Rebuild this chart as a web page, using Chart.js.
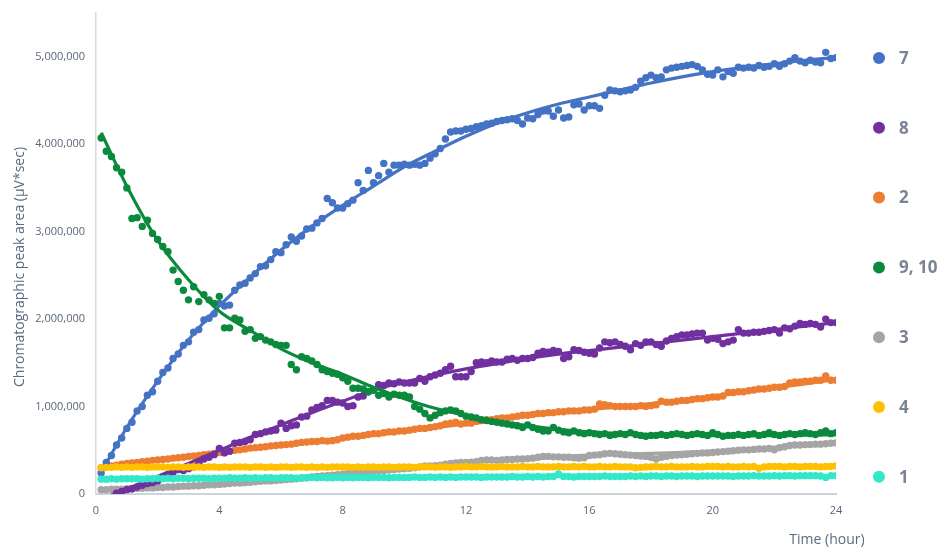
<!DOCTYPE html>
<html>
<head>
<meta charset="utf-8">
<script src="https://cdn.jsdelivr.net/npm/chart.js@4.4.1/dist/chart.umd.min.js"></script>
<style>
  html, body { margin: 0; padding: 0; background: #ffffff; }
  #wrap { position: relative; width: 944px; height: 547px; }
</style>
</head>
<body>
<div id="wrap"><canvas id="chart" width="944" height="547"></canvas></div>
<script>
// Sampling times (minutes after start), one injection every 10 min
const timeMin = [
  10, 20, 30, 40, 50, 60,
  70, 80, 90, 100, 110, 120,
  130, 140, 150, 160, 170, 180,
  190, 200, 210, 220, 230, 240,
  250, 260, 270, 280, 290, 300,
  310, 320, 330, 340, 350, 360,
  370, 380, 390, 400, 410, 420,
  430, 440, 450, 460, 470, 480,
  490, 500, 510, 520, 530, 540,
  550, 560, 570, 580, 590, 600,
  610, 620, 630, 640, 650, 660,
  670, 680, 690, 700, 710, 720,
  730, 740, 750, 760, 770, 780,
  790, 800, 810, 820, 830, 840,
  850, 860, 870, 880, 890, 900,
  910, 920, 930, 940, 950, 960,
  970, 980, 990, 1000, 1010, 1020,
  1030, 1040, 1050, 1060, 1070, 1080,
  1090, 1100, 1110, 1120, 1130, 1140,
  1150, 1160, 1170, 1180, 1190, 1200,
  1210, 1220, 1230, 1240, 1250, 1260,
  1270, 1280, 1290, 1300, 1310, 1320,
  1330, 1340, 1350, 1360, 1370, 1380,
  1390, 1400, 1410, 1420, 1430, 1440
];

// Peak areas, in thousands of µV*sec
const area7 = [
  240, 360, 440, 560, 640, 750,
  820, 950, 1000, 1130, 1170, 1290,
  1390, 1440, 1550, 1600, 1700, 1740,
  1850, 1880, 1990, 2010, 2060, 2180,
  2150, 2160, 2330, 2390, 2410, 2470,
  2520, 2600, 2610, 2680, 2770, 2760,
  2850, 2940, 2890, 2950, 3030, 3040,
  3100, 3150, 3380, 3330, 3270, 3270,
  3320, 3360, 3560, 3470, 3700, 3560,
  3640, 3780, 3680, 3760, 3760, 3770,
  3760, 3770, 3760, 3780, 3840, 3890,
  3950, 4060, 4140, 4150, 4150, 4170,
  4180, 4200, 4210, 4230, 4240, 4260,
  4270, 4280, 4290, 4270, 4230, 4300,
  4290, 4340, 4380, 4380, 4320, 4390,
  4300, 4310, 4450, 4460, 4390, 4440,
  4440, 4410, 4560, 4620, 4610, 4600,
  4610, 4620, 4650, 4720, 4760, 4790,
  4760, 4770, 4850, 4870, 4880, 4890,
  4900, 4910, 4890, 4850, 4800, 4790,
  4850, 4770, 4830, 4810, 4880, 4870,
  4880, 4870, 4900, 4880, 4890, 4920,
  4890, 4920, 4950, 4990, 4950, 4930,
  4960, 4940, 4930, 5050, 4980, 4990
];
const area8 = [
  null, null, null, 10, 30, 50,
  60, 80, 100, 120, 130, 150,
  190, 220, 250, 280, 270, 290,
  310, 350, 400, 420, 450, 520,
  470, 490, 580, 590, 600, 620,
  680, 690, 710, 720, 730, 810,
  750, 780, 790, 880, 890, 960,
  990, 1010, 1070, 1070, 1050, 1040,
  1000, 1010, 1110, 1120, 1170, 1190,
  1250, 1240, 1270, 1260, 1280, 1270,
  1270, 1270, 1320, 1290, 1340, 1360,
  1380, 1420, 1460, 1340, 1340, 1340,
  1400, 1500, 1510, 1500, 1520, 1510,
  1510, 1540, 1550, 1530, 1550, 1550,
  1560, 1610, 1630, 1620, 1640, 1630,
  1550, 1570, 1650, 1640, 1620, 1610,
  1600, 1670, 1740, 1730, 1740, 1710,
  1690, 1650, 1720, 1700, 1740, 1740,
  1710, 1690, 1750, 1780, 1800, 1820,
  1820, 1830, 1840, 1840, 1760, 1780,
  1770, 1720, 1740, 1760, 1880, 1840,
  1840, 1850, 1850, 1860, 1870, 1880,
  1840, 1900, 1890, 1920, 1950, 1940,
  1950, 1940, 1910, 2000, 1960, 1960
];
const area2 = [
  300, 310, 320, 330, 340, 350,
  355, 360, 370, 375, 385, 390,
  395, 400, 410, 415, 420, 430,
  435, 440, 450, 455, 465, 475,
  480, 490, 500, 505, 515, 525,
  530, 535, 540, 550, 555, 560,
  565, 570, 580, 590, 595, 600,
  600, 610, 605, 610, 620, 640,
  650, 660, 660, 670, 680, 690,
  690, 700, 710, 710, 720, 720,
  730, 740, 750, 750, 760, 770,
  780, 800, 810, 820, 800, 810,
  810, 830, 840, 850, 850, 860,
  870, 870, 880, 890, 900, 900,
  910, 920, 920, 930, 930, 940,
  940, 950, 950, 950, 960, 960,
  970, 1030, 1020, 1010, 1000, 1000,
  1000, 1000, 1000, 1010, 1000, 1010,
  1020, 1060, 1050, 1050, 1060, 1070,
  1070, 1080, 1090, 1090, 1100, 1110,
  1110, 1120, 1160, 1160, 1170, 1170,
  1180, 1190, 1200, 1200, 1210, 1220,
  1220, 1230, 1270, 1280, 1280, 1290,
  1290, 1300, 1300, 1350, 1300, 1300
];
const area9_10 = [
  4070, 3920, 3860, 3730, 3680, 3500,
  3150, 3160, 3060, 3130, 2980, 2910,
  2830, 2770, 2560, 2430, 2330, 2220,
  2370, 2200, 2280, 2220, 2180, 2260,
  1900, 1900, 2010, 1990, 1860, 1880,
  1780, 1800, 1760, 1740, 1710, 1700,
  1700, 1480, 1420, 1570, 1550, 1520,
  1480, 1420, 1400, 1380, 1370, 1330,
  1290, 1210, 1210, 1200, 1170, 1190,
  1130, 1150, 1110, 1140, 1130, 1130,
  1110, 1000, 970, 920, 870, 900,
  930, 950, 960, 950, 920, 890,
  880, 870, 850, 840, 830, 820,
  810, 800, 790, 780, 760, 790,
  760, 740, 720, 720, 760, 730,
  710, 700, 720, 700, 690, 700,
  690, 680, 690, 670, 680, 690,
  680, 700, 680, 670, 660, 670,
  670, 680, 670, 680, 690, 680,
  670, 680, 690, 680, 670, 700,
  680, 660, 670, 670, 680, 670,
  680, 690, 670, 680, 700, 680,
  670, 680, 690, 680, 690, 700,
  690, 680, 700, 720, 690, 700
];
const area3 = [
  50, 50, 55, 55, 55, 60,
  60, 65, 65, 70, 70, 75,
  75, 80, 80, 85, 90, 90,
  95, 95, 100, 105, 105, 110,
  115, 120, 125, 125, 130, 135,
  140, 145, 150, 150, 155, 160,
  165, 170, 175, 180, 185, 195,
  200, 205, 210, 215, 220, 225,
  235, 240, 245, 250, 255, 260,
  265, 270, 275, 280, 285, 290,
  295, 300, 310, 320, 320, 325,
  330, 340, 350, 355, 360, 360,
  365, 370, 385, 390, 390, 385,
  390, 395, 395, 400, 400, 405,
  410, 420, 430, 430, 425, 425,
  420, 420, 415, 410, 415, 440,
  445, 450, 460, 465, 460, 455,
  450, 445, 440, 435, 430, 420,
  400, 420, 430, 440, 445, 450,
  455, 460, 465, 470, 470, 475,
  480, 485, 490, 495, 500, 505,
  505, 510, 515, 515, 520, 505,
  530, 540, 555, 560, 560, 565,
  565, 570, 570, 575, 580, 585
];
const area4 = [
  300, 305, 305, 310, 305, 310,
  305, 310, 310, 305, 310, 310,
  310, 305, 310, 310, 305, 310,
  310, 310, 305, 310, 310, 305,
  310, 305, 310, 310, 310, 305,
  310, 310, 305, 310, 305, 310,
  310, 305, 310, 310, 305, 310,
  305, 310, 305, 310, 310, 310,
  310, 305, 310, 305, 310, 310,
  305, 310, 310, 305, 310, 310,
  310, 305, 310, 310, 310, 305,
  310, 310, 305, 310, 310, 315,
  310, 310, 315, 310, 310, 310,
  315, 310, 310, 310, 315, 310,
  310, 315, 310, 310, 310, 315,
  310, 310, 315, 310, 315, 310,
  310, 315, 310, 310, 315, 310,
  310, 310, 300, 305, 310, 310,
  315, 310, 310, 315, 310, 310,
  310, 315, 310, 310, 315, 315,
  315, 310, 315, 310, 310, 315,
  310, 315, 295, 310, 315, 315,
  315, 310, 315, 315, 310, 315,
  315, 315, 310, 315, 315, 320
];
const area1 = [
  170, 170, 175, 170, 175, 175,
  175, 175, 170, 175, 175, 180,
  175, 180, 175, 180, 180, 175,
  180, 180, 180, 175, 180, 180,
  180, 185, 180, 180, 185, 180,
  185, 180, 185, 185, 180, 185,
  185, 185, 180, 185, 185, 190,
  185, 190, 185, 185, 190, 185,
  190, 185, 190, 190, 185, 190,
  190, 190, 185, 190, 190, 190,
  190, 195, 190, 190, 195, 190,
  195, 190, 195, 190, 195, 195,
  195, 195, 190, 195, 195, 195,
  195, 195, 200, 195, 195, 200,
  195, 200, 195, 200, 200, 230,
  200, 200, 195, 200, 200, 200,
  200, 200, 205, 200, 200, 200,
  200, 205, 200, 205, 200, 205,
  205, 200, 205, 205, 200, 205,
  205, 205, 200, 205, 205, 205,
  205, 205, 205, 200, 205, 205,
  205, 210, 205, 205, 205, 210,
  205, 210, 210, 205, 210, 210,
  210, 210, 205, 190, 210, 210
];

// Fitted trend curves, same units, at the hours below
const fitHours = [0.17, 1, 2, 3, 4, 5, 6, 7, 8, 9, 10, 11, 12, 13, 14, 15, 16, 17, 18, 19, 20, 21, 22, 23, 24];
const fit7 = [250, 760, 1290, 1760, 2150, 2480, 2790, 3060, 3300, 3520, 3740, 3920, 4090, 4240, 4360, 4460, 4540, 4620, 4700, 4770, 4830, 4880, 4920, 4960, 4990];
const fit8 = [-60, 60, 200, 350, 500, 650, 790, 930, 1060, 1190, 1280, 1360, 1430, 1490, 1550, 1600, 1640, 1680, 1720, 1760, 1800, 1840, 1880, 1920, 1960];
const fit2 = [300, 350, 390, 430, 480, 525, 565, 600, 640, 680, 720, 760, 800, 840, 890, 930, 965, 1000, 1035, 1075, 1115, 1160, 1210, 1260, 1310];
const fit9_10 = [4130, 3520, 2900, 2450, 2090, 1870, 1660, 1500, 1370, 1220, 1090, 980, 900, 830, 780, 740, 710, 690, 680, 672, 668, 666, 668, 672, 680];
const fit3 = [50, 60, 80, 100, 125, 150, 180, 210, 240, 270, 300, 330, 360, 385, 410, 430, 445, 455, 465, 475, 490, 510, 535, 560, 585];
const fit4 = [305, 306, 307, 307, 308, 308, 308, 309, 309, 309, 310, 310, 311, 311, 311, 312, 312, 312, 313, 313, 313, 314, 314, 315, 315];
const fit1 = [172, 175, 177, 179, 181, 183, 185, 187, 188, 190, 191, 192, 194, 195, 196, 197, 198, 199, 200, 201, 202, 203, 204, 205, 206];

// Axis ticks
const xTicks = [0, 4, 8, 12, 16, 20, 24];
const yTicks = [0, 1000000, 2000000, 3000000, 4000000, 5000000];

// Legend order as listed beside the plot
const compounds = [
  { label: '7',     color: '#4472C4', area: area7,    fit: fit7,    layer: 5 },
  { label: '8',     color: '#7030A0', area: area8,    fit: fit8,    layer: 4 },
  { label: '2',     color: '#ED7D31', area: area2,    fit: fit2,    layer: 6 },
  { label: '9, 10', color: '#0B8A3E', area: area9_10, fit: fit9_10, layer: 3 },
  { label: '3',     color: '#A5A5A5', area: area3,    fit: fit3,    layer: 7 },
  { label: '4',     color: '#FFC000', area: area4,    fit: fit4,    layer: 2 },
  { label: '1',     color: '#31E8C9', area: area1,    fit: fit1,    layer: 1 }
];

const UNIT = 1000; // table values are in thousands
const hours = timeMin.map(m => m / 60);

const datasets = [];
compounds.forEach(c => {
  datasets.push({
    label: c.label,
    data: hours.map((h, i) => ({ x: h, y: c.area[i] === null ? null : c.area[i] * UNIT })),
    backgroundColor: c.color,
    borderColor: c.color,
    pointRadius: 3.7,
    pointBorderWidth: 0,
    pointHoverRadius: 3.7,
    showLine: false,
    order: c.layer
  });
  datasets.push({
    label: c.label + ' fit',
    data: fitHours.map((h, i) => ({ x: h, y: c.fit[i] * UNIT })),
    borderColor: c.color,
    backgroundColor: c.color,
    borderWidth: 3.2,
    pointRadius: 0,
    showLine: true,
    cubicInterpolationMode: 'monotone',
    order: c.layer - 0.5
  });
});

const TEXT = '#5b6679';
const FONT = "'Open Sans', 'Liberation Sans', sans-serif";

// Axis titles and the compound key drawn next to the plot
const annotations = {
  id: 'annotations',
  afterDraw(chart) {
    const ctx = chart.ctx;
    ctx.save();
    // y title
    ctx.fillStyle = '#5a6a82';
    ctx.font = "14px " + FONT;
    ctx.textAlign = 'center';
    ctx.textBaseline = 'middle';
    ctx.translate(20, 267);
    ctx.rotate(-Math.PI / 2);
    ctx.fillText('Chromatographic peak area (µV*sec)', 0, 0);
    ctx.restore();

    ctx.save();
    ctx.fillStyle = '#5a6a82';
    ctx.font = "14px " + FONT;
    ctx.textAlign = 'center';
    ctx.textBaseline = 'middle';
    ctx.fillText('Time (hour)', 827, 540);
    ctx.restore();

    // key
    ctx.save();
    compounds.forEach((c, i) => {
      const y = 58 + i * 69.8;
      ctx.beginPath();
      ctx.fillStyle = c.color;
      ctx.arc(879, y, 6, 0, Math.PI * 2);
      ctx.fill();
      ctx.fillStyle = '#7b8494';
      ctx.font = "bold 17px " + FONT;
      ctx.textAlign = 'left';
      ctx.textBaseline = 'middle';
      ctx.fillText(c.label, 899, y + 1);
    });
    ctx.restore();
  }
};

new Chart(document.getElementById('chart'), {
  type: 'scatter',
  data: { datasets },
  options: {
    responsive: false,
    animation: false,
    devicePixelRatio: 1,
    layout: { padding: { left: 0, right: 108, top: 13, bottom: 0 } },
    plugins: {
      legend: { display: false },
      tooltip: { enabled: false }
    },
    scales: {
      x: {
        type: 'linear',
        min: 0,
        max: 24,
        afterFit(scale) {
          scale.height = 53;
          scale.paddingLeft = 0;
          scale.paddingRight = 0;
        },
        afterBuildTicks(scale) { scale.ticks = xTicks.map(v => ({ value: v })); },
        grid: { display: false, drawTicks: false },
        border: { display: true, color: '#cdd3dc', width: 2 },
        ticks: { color: TEXT, font: { size: 11, family: FONT }, padding: 10, maxRotation: 0 }
      },
      y: {
        type: 'linear',
        min: 0,
        max: 5500000,
        afterFit(scale) {
          scale.width = 96;
          scale.paddingTop = 0;
          scale.paddingBottom = 0;
        },
        afterBuildTicks(scale) { scale.ticks = yTicks.map(v => ({ value: v })); },
        grid: { display: false, drawTicks: false },
        border: { display: true, color: '#d9d9d9', width: 1.5 },
        ticks: {
          color: TEXT,
          font: { size: 11, family: FONT },
          padding: 11,
          callback: v => v.toLocaleString('en-US')
        }
      }
    }
  },
  plugins: [annotations]
});
</script>
</body>
</html>
